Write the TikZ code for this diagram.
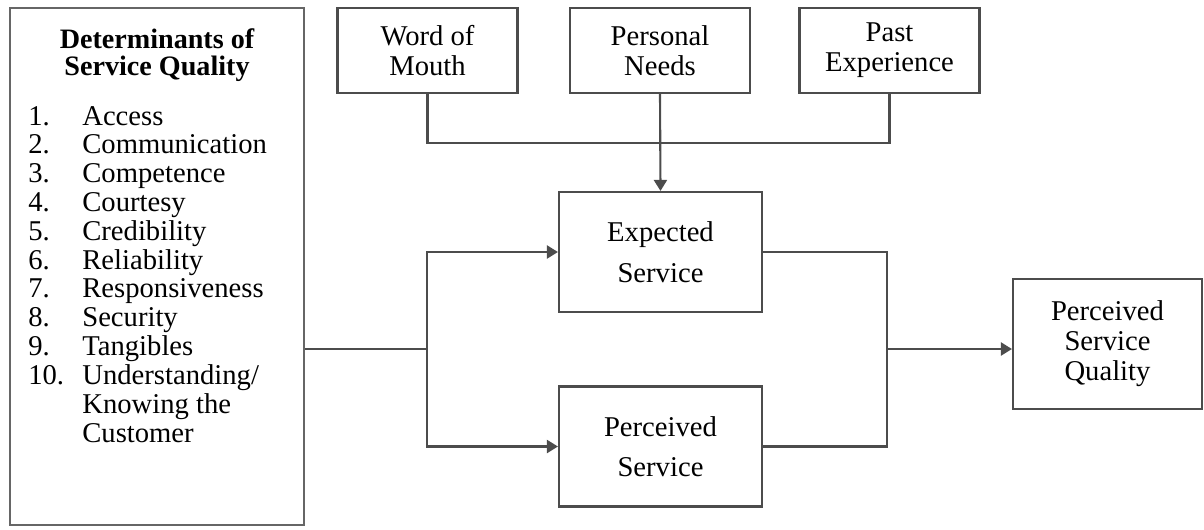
\documentclass[tikz,border=0pt]{standalone}
\usepackage{fontspec}
\setmainfont{Liberation Serif}
\usetikzlibrary{positioning, arrows.meta}
\tikzset{every node/.style={font=\fontsize{16.3}{17}\selectfont},
         factor/.style={draw=black!70,line width=1.2pt,minimum width=3.6cm,minimum height=1.7cm,align=center,inner sep=0pt},
         service/.style={draw=black!70,line width=1.2pt,minimum width=4.06cm,minimum height=2.4cm,align=center,inner sep=0pt},
         detbox/.style={draw=black!60,line width=1.2pt,minimum width=5.88cm,minimum height=10.34cm,inner sep=0pt},
         link/.style={draw=black!70,line width=1.2pt},
         >={Triangle[length=2.2mm,width=2.6mm]},
        }

\begin{document}
\begin{tikzpicture}
        \useasboundingbox(0,0)rectangle(24.08,-10.58);

        \node[detbox](det)at(3.14,-5.33){};
        \node[anchor=north,inner sep=0pt,align=center,font=\fontsize{16}{15.3}\selectfont\bfseries](dettitle)at(3.14,-0.56){Determinants of\\Service Quality};
        \node[anchor=base west,inner sep=0pt,font=\fontsize{16.3}{16.4}\selectfont](detlist)at(0.56,-2.5){%
          \begin{tabular}[t]{@{}p{1.08cm}@{}l@{}}
          1. & Access\\
          2. & Communication\\
          3. & Competence\\
          4. & Courtesy\\
          5. & Credibility\\
          6. & Reliability\\
          7. & Responsiveness\\
          8. & Security\\
          9. & Tangibles\\
          10. & Understanding/\\
              & Knowing the\\
              & Customer
          \end{tabular}};

        \node[factor](wom)at(8.55,-1.01){Word of\\Mouth};
        \node[factor](needs)at(13.2,-1.01){Personal\\Needs};
        \node[factor](past)at(17.79,-1.01){Past\\Experience};

        \node[service](expected)at(13.21,-5.04){Expected\\[6pt]Service};
        \node[service](perceived)at(13.21,-8.93){Perceived\\[6pt]Service};
        \node[service,minimum width=3.78cm,minimum height=2.6cm](psq)at(22.15,-6.88){Perceived\\Service\\Quality};

        \coordinate(bus)at(13.2,-2.86);
        \coordinate(split)at(8.54,-6.98);
        \coordinate(join)at(17.74,-6.98);

        \draw[link](wom.south)|-(bus)-|(past.south);
        \draw[link,->](needs.south)--(expected.north);

        \draw[link](det.east|-split)--(split);
        \draw[link,->](split)|-(expected.west);
        \draw[link,->](split)|-(perceived.west);

        \draw[link](expected.east)-|(join);
        \draw[link](perceived.east)-|(join);
        \draw[link,->](join)--(join-|psq.west);
    \end{tikzpicture}
\end{document}
